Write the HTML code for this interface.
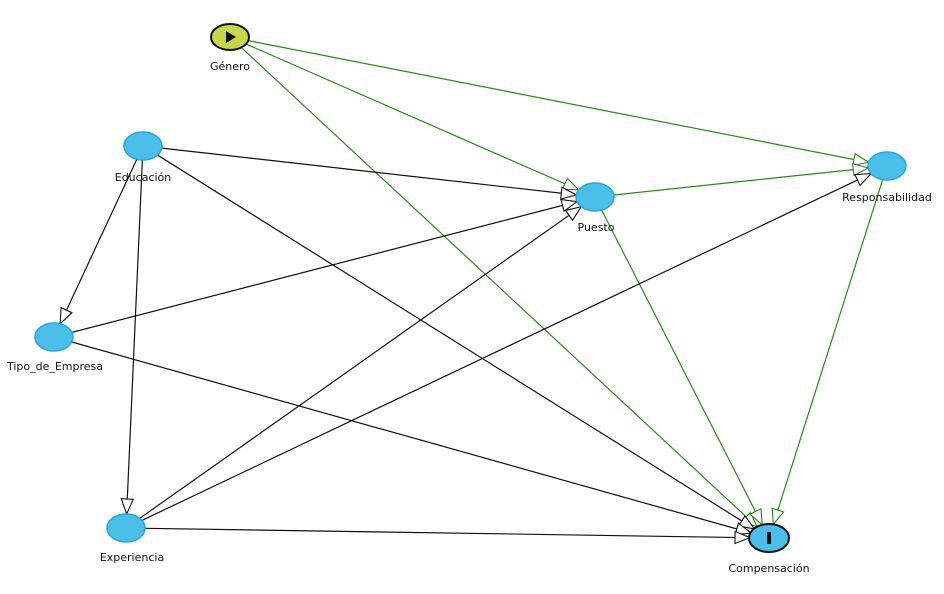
<!DOCTYPE html>
<html><head><meta charset="utf-8"><style>
html,body{margin:0;padding:0;background:#fff;width:944px;height:594px;overflow:hidden}
svg{position:absolute;left:0;top:0}
text{font-family:"DejaVu Sans","Liberation Sans",sans-serif;font-size:11px;fill:#111;text-anchor:middle}
</style></head><body>
<svg id="s" width="944" height="594" viewBox="0 0 944 594">
<defs>
<marker id="mb" markerUnits="userSpaceOnUse" markerWidth="20" markerHeight="16" refX="16" refY="7" orient="auto"><path d="M1,1 L16,7 L1,13 Z" fill="#fff" stroke="#111" stroke-width="1.1"/></marker>
<marker id="mg" markerUnits="userSpaceOnUse" markerWidth="20" markerHeight="16" refX="16" refY="7" orient="auto"><path d="M1,1 L16,7 L1,13 Z" fill="#fff" stroke="#2a8a1a" stroke-width="1.1"/></marker>
</defs>
<g id="edges"></g>
<g id="nodes"></g>
<text x="230" y="70">Género</text>
<text x="143" y="181">Educación</text>
<text x="596" y="231">Puesto</text>
<text x="887" y="201">Responsabilidad</text>
<text x="55" y="370">Tipo_de_Empresa</text>
<text x="132" y="561">Experiencia</text>
<text x="769" y="572">Compensación</text>
</svg>
<script>
var N={G:[230,37],E:[143,146],P:[595,197],R:[887,166],T:[54,337],X:[126,528],C:[769,538]};
var RX=19,RY=14;
var edges=[["G","P",1],["G","R",1],["G","C",1],["P","R",1],["P","C",1],["R","C",1],
["E","P",0],["E","C",0],["E","T",0],["E","X",0],["T","P",0],["T","C",0],["X","P",0],["X","R",0],["X","C",0]];
function bd(a,b){var dx=b[0]-a[0],dy=b[1]-a[1];var t=1/Math.sqrt(dx*dx/(RX*RX)+dy*dy/(RY*RY));return [a[0]+dx*t,a[1]+dy*t];}
var g=document.getElementById('edges'),h='';
edges.forEach(function(e){var a=N[e[0]],b=N[e[1]];var p=bd(a,b),q=bd(b,a);
h+='<line x1="'+p[0]+'" y1="'+p[1]+'" x2="'+q[0]+'" y2="'+q[1]+'" stroke="'+(e[2]?'#2a8a1a':'#111')+'" stroke-width="1.2" marker-end="url(#'+(e[2]?'mg':'mb')+')"/>';});
g.innerHTML=h;
var n='';
for(var k in N){var c=N[k];
if(k=='G'){n+='<ellipse cx="230" cy="37" rx="19" ry="13" fill="#c6d84a" stroke="#111" stroke-width="2"/><path d="M226,31 L236,37 L226,43 Z" fill="#111"/>';}
else if(k=='C'){n+='<ellipse cx="769" cy="538" rx="20" ry="14" fill="#4bbfea" stroke="#111" stroke-width="2"/><rect x="767" y="532" width="4" height="12" fill="#111"/>';}
else n+='<ellipse cx="'+c[0]+'" cy="'+c[1]+'" rx="19" ry="14" fill="#4bbfea" stroke="#2aa6d9" stroke-width="1.5"/>';}
document.getElementById('nodes').innerHTML=n;
</script>
</body></html>
